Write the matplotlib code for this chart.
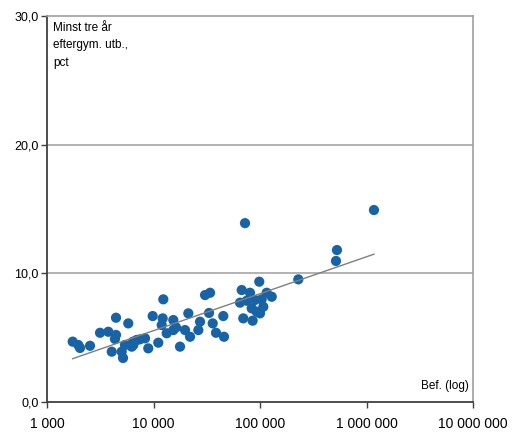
import numpy as np
import matplotlib
matplotlib.use("Agg")
import matplotlib.pyplot as plt
from matplotlib.ticker import FixedLocator, NullLocator

plt.rcParams['font.family'] = ['Liberation Sans', 'DejaVu Sans']

# Befolkning (log) og andel med minst tre år eftergymnasial utdanning
bef = [1742, 1967, 2042, 2535, 3148, 3767, 4446, 4446, 4345, 5796,
       4055, 5027, 6427, 6244, 5176, 12360, 9820, 11940, 15350, 21230,
       27350, 30480, 33220, 6950, 8320, 8930, 11090, 13300, 15350, 17740,
       19770, 22040, 26360, 6460, 33970, 45200, 35960, 38630, 45930, 67310,
       80540, 98450, 115500, 128900, 64890, 75000, 89750, 103700, 83530, 107400,
       69660, 85250, 100000, 93100, 72300, 229000, 528000, 517000, 1175000, 12190,
       5395, 7460, 16260]
pct = [4.69, 4.43, 4.20, 4.37, 5.38, 5.46, 6.55, 5.21, 4.90, 6.11,
       3.91, 3.91, 4.69, 4.30, 3.42, 7.98, 6.68, 5.98, 6.37, 6.89,
       6.24, 8.31, 6.92, 4.82, 4.95, 4.17, 4.61, 5.34, 5.59, 4.30,
       5.59, 5.07, 5.59, 4.43, 8.49, 6.68, 6.11, 5.38, 5.07, 8.70,
       8.49, 9.35, 8.49, 8.18, 7.72, 7.87, 7.93, 7.98, 7.28, 7.40,
       6.50, 6.32, 6.89, 7.02, 13.90, 9.53, 11.81, 10.96, 14.92, 6.50,
       4.43, 4.87, 5.80]

x_ticks = [1e3, 1e4, 1e5, 1e6, 1e7]
x_labels = ['1 000', '10 000', '100 000', '1 000 000', '10 000 000']
y_ticks = [0, 10, 20, 30]
y_labels = ['0,0', '10,0', '20,0', '30,0']

bef = np.array(bef, dtype=float)
pct = np.array(pct)

fig = plt.figure(figsize=(5.12, 4.33), dpi=100)
ax = fig.add_axes([47/512, 31/433, 426/512, 386/433])

ax.set_xscale('log')
ax.set_xlim(1e3, 1e7)
ax.set_ylim(0, 30)

# gridlines
for yv in [10, 20]:
    ax.axhline(yv, color='#a6a6a6', lw=1.2, zorder=1)

ax.scatter(bef, pct, s=54, color='#1763a6', edgecolors='none', zorder=3)

# trendlinje (lineær i log x)
k, m = np.polyfit(np.log10(bef), pct, 1)
xs = np.array([bef.min(), bef.max()])
ax.plot(xs, k * np.log10(xs) + m, color='#7f7f7f', lw=1.0, zorder=4)

ax.xaxis.set_major_locator(FixedLocator(x_ticks))
ax.xaxis.set_minor_locator(NullLocator())
ax.set_xticklabels(x_labels)
ax.set_yticks(y_ticks)
ax.set_yticklabels(y_labels)
ax.tick_params(axis='both', length=4, width=1, color='#404040', direction='out')
ax.tick_params(axis='x', labelsize=10, pad=7)
ax.tick_params(axis='y', labelsize=9, pad=2)

for s in ['left', 'bottom']:
    ax.spines[s].set_color('#404040')
    ax.spines[s].set_linewidth(1.3)
for s in ['top', 'right']:
    ax.spines[s].set_color('#a0a0a0')
    ax.spines[s].set_linewidth(1.2)

ax.text(0.015, 0.985, 'Minst tre år\neftergym. utb.,\npct', transform=ax.transAxes,
        ha='left', va='top', fontsize=8.5, linespacing=1.6)
ax.text(0.99, 0.025, 'Bef. (log)', transform=ax.transAxes,
        ha='right', va='bottom', fontsize=8.5)

fig.savefig('out.png', dpi=100)
